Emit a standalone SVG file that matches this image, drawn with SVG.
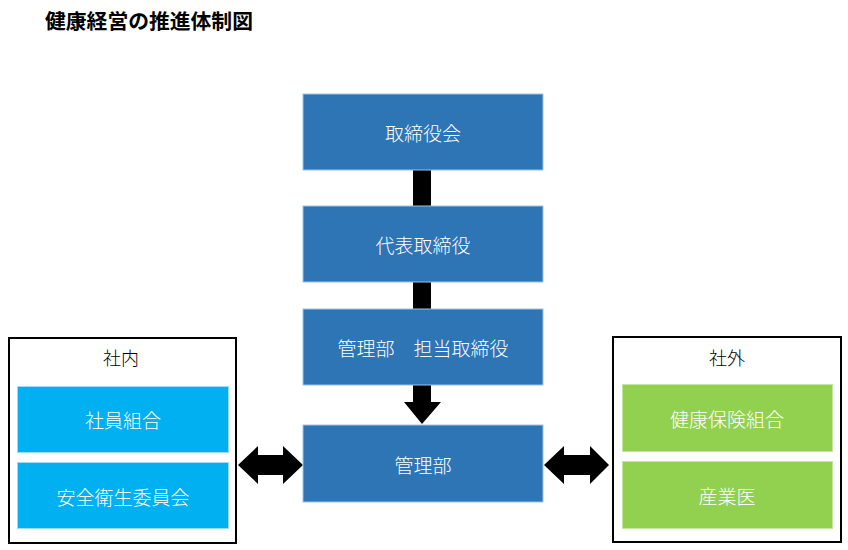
<svg xmlns="http://www.w3.org/2000/svg" width="848" height="550" viewBox="0 0 848 550">
<style>
text{font-family:"Noto Sans CJK JP","Noto Sans CJK SC",sans-serif;text-anchor:middle;dominant-baseline:central;font-weight:300}
.title{font-size:20.8px;font-weight:bold;text-anchor:start;fill:#000}
.main rect{fill:#2E75B6;stroke:#9DC3E6;stroke-width:1}
.main text{fill:#fff;font-size:19px}
.in rect{fill:#00B0F0;stroke:#9DDCF5;stroke-width:1}
.out rect{fill:#92D050;stroke:#C5E5A5;stroke-width:1}
.in text,.out text{fill:#fff;font-size:19px}
.frame rect{fill:#fff;stroke:#000;stroke-width:2}
.frame text{fill:#000;font-size:18px}
.conn *{fill:#000;stroke:none}
</style>
<rect width="848" height="550" fill="#fff"/>
<text class="title" x="45" y="20">健康経営の推進体制図</text>
<g id="internal" class="frame">
<rect x="9" y="338" width="227" height="205"/>
<text x="121" y="357">社内</text>
</g>
<g id="external" class="frame">
<rect x="613" y="337" width="228" height="205"/>
<text x="727" y="357">社外</text>
</g>
<g id="conns" class="conn">
<rect x="413" y="170" width="18" height="36"/>
<rect x="413" y="282" width="18" height="27"/>
<polygon points="413,385 431,385 431,402 441,402 422,424 404,402 413,402"/>
<polygon points="238,465 258,446 258,455 283,455 283,446 303,465 283,484 283,475 258,475 258,484"/>
<polygon points="544,465 564,446 564,455 590,455 590,446 609,465 590,484 590,475 564,475 564,484"/>
</g>
<g id="board" class="main"><rect x="303" y="94" width="240" height="76"/><text x="423" y="132">取締役会</text></g>
<g id="ceo" class="main"><rect x="303" y="206" width="240" height="76"/><text x="423" y="244">代表取締役</text></g>
<g id="director" class="main"><rect x="303" y="309" width="240" height="76"/><text x="423" y="347">管理部　担当取締役</text></g>
<g id="admin" class="main"><rect x="303" y="425" width="240" height="77"/><text x="423" y="464">管理部</text></g>
<g id="union" class="in"><rect x="17.5" y="386.5" width="211" height="66"/><text x="123" y="419">社員組合</text></g>
<g id="safety" class="in"><rect x="17.5" y="462.5" width="211" height="66"/><text x="123" y="496">安全衛生委員会</text></g>
<g id="kenpo" class="out"><rect x="622.5" y="384.5" width="210" height="67"/><text x="727" y="418">健康保険組合</text></g>
<g id="doctor" class="out"><rect x="622.5" y="461.5" width="210" height="67"/><text x="727" y="495">産業医</text></g>
</svg>
